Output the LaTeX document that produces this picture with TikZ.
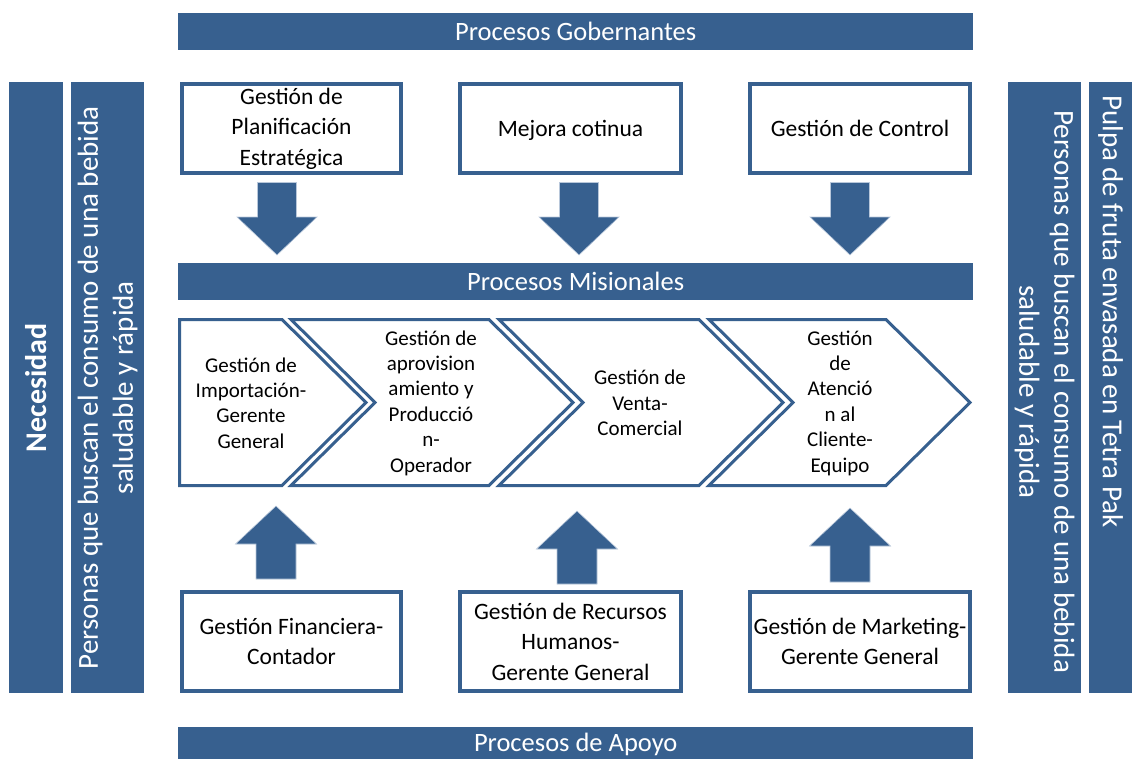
\documentclass[tikz,border=0pt]{standalone}
\usepackage{fontspec}
\setmainfont{Carlito}
\definecolor{myblue}{HTML}{37608F}
\definecolor{arrowedge}{HTML}{B8C7DA}
\begin{document}
\begin{tikzpicture}[x=1pt,y=-1pt,
  banner/.style={fill=myblue, text=white, font=\fontsize{26.5}{30}\selectfont, inner sep=0pt, anchor=north west},
  sidebar/.style={fill=myblue, inner sep=0pt, anchor=north west},
  sidetext/.style={text=white, font=\fontsize{29}{35}\selectfont, align=center, inner sep=0pt},
  topbox/.style={draw=myblue, line width=4pt, fill=white, align=center, inner sep=0pt, font=\fontsize{23.5}{30.5}\selectfont},
  chev/.style={draw=myblue, line width=3pt, fill=white, line join=miter},
  chevtext/.style={align=center, font=\fontsize{21}{25.4}\selectfont, inner sep=0pt},
  blockarrow/.style={fill=myblue, draw=arrowedge, line width=0.6pt}
]
\useasboundingbox (0,0) rectangle (1132,758);

% banners
\node[banner, minimum width=795pt, minimum height=37pt] (gob) at (178,13) {Procesos Gobernantes};
\node[banner, minimum width=795pt, minimum height=37pt] (mis) at (178,263) {Procesos Misionales};
\node[banner, minimum width=795pt, minimum height=34pt] (apo) at (178,727) {Procesos de Apoyo};

% side bars
\node[sidebar, minimum width=54pt, minimum height=611pt] (nec) at (9,82) {};
\node[sidebar, minimum width=73pt, minimum height=611pt] (lper) at (71,82) {};
\node[sidebar, minimum width=73pt, minimum height=611pt] (rper) at (1008,82) {};
\node[sidebar, minimum width=43pt, minimum height=611pt] (pulpa) at (1089,82) {};
\node[sidetext, font=\fontsize{30}{34}\selectfont\bfseries, rotate=90] (necT) at (nec.center) {Necesidad};
\node[sidetext, rotate=90] (lperT) at (lper.center) {Personas que buscan el consumo de una bebida\\saludable y rápida};
\node[sidetext, rotate=-90] (rperT) at ([yshift=-4pt]rper.center) {Personas que buscan el consumo de una bebida\\saludable y rápida};
\node[sidetext, rotate=-90, anchor=west] (pulpaT) at (1110.5,95) {Pulpa de fruta envasada en Tetra Pak};

% top boxes
\node[topbox, minimum width=219pt, minimum height=89pt] (plan) at (291.5,128.5) {Gestión de\\Planificación\\Estratégica};
\node[topbox, minimum width=221pt, minimum height=89pt, text depth=0pt] (mej) at (570.5,128.5) {Mejora cotinua};
\node[topbox, minimum width=220pt, minimum height=89pt, text depth=0pt] (ctrl) at (860,128.5) {Gestión de Control};

% bottom boxes
\node[topbox, minimum width=219pt, minimum height=99pt] (fin) at (291.5,641.5) {Gestión Financiera-\\Contador};
\node[topbox, minimum width=221pt, minimum height=99pt] (rrhh) at (570.5,641.5) {Gestión de Recursos\\Humanos-\\Gerente General};
\node[topbox, minimum width=220pt, minimum height=99pt] (mkt) at (860,641.5) {Gestión de Marketing-\\Gerente General};

% chevrons
\draw[chev] (179.5,319.5) -- (282,319.5) -- (366,402.5) -- (282,485.5) -- (179.5,485.5) -- cycle;
\draw[chev] (291,319.5) -- (489,319.5) -- (573,402.5) -- (489,485.5) -- (291,485.5) -- (375,402.5) -- cycle;
\draw[chev] (499,319.5) -- (699,319.5) -- (783,402.5) -- (699,485.5) -- (499,485.5) -- (583,402.5) -- cycle;
\draw[chev] (709,319.5) -- (886,319.5) -- (970,402.5) -- (886,485.5) -- (709,485.5) -- (793,402.5) -- cycle;
\node[chevtext] (c1) at (251,403) {Gestión de\\Importación-\\Gerente\\General};
\node[chevtext] (c2) at (431,403) {Gestión de\\aprovision\\amiento y\\Producció\\n-\\Operador};
\node[chevtext] (c3) at (640,403) {Gestión de\\Venta-\\Comercial};
\node[chevtext] (c4) at (840,403) {Gestión\\de\\Atenció\\n al\\Cliente-\\Equipo};

% down arrows (from top boxes to Procesos Misionales)
\foreach \cx/\nm in {277/plan, 579/mej, 850/ctrl}{
  \draw[blockarrow] (\cx-19.5,182.5) -- (\cx+19.5,182.5) -- (\cx+19.5,217) -- (\cx+40,217) -- (\cx,255) -- (\cx-40,217) -- (\cx-19.5,217) -- cycle;
}
% up arrows (from bottom boxes to chevrons)
\foreach \cx/\tip/\base/\bot in {276/506/544/579, 577/511/549/584, 850/508/546/582}{
  \draw[blockarrow] (\cx-20,\bot) -- (\cx+20,\bot) -- (\cx+20,\base) -- (\cx+40.5,\base) -- (\cx,\tip) -- (\cx-40.5,\base) -- (\cx-20,\base) -- cycle;
}
\end{tikzpicture}
\end{document}
